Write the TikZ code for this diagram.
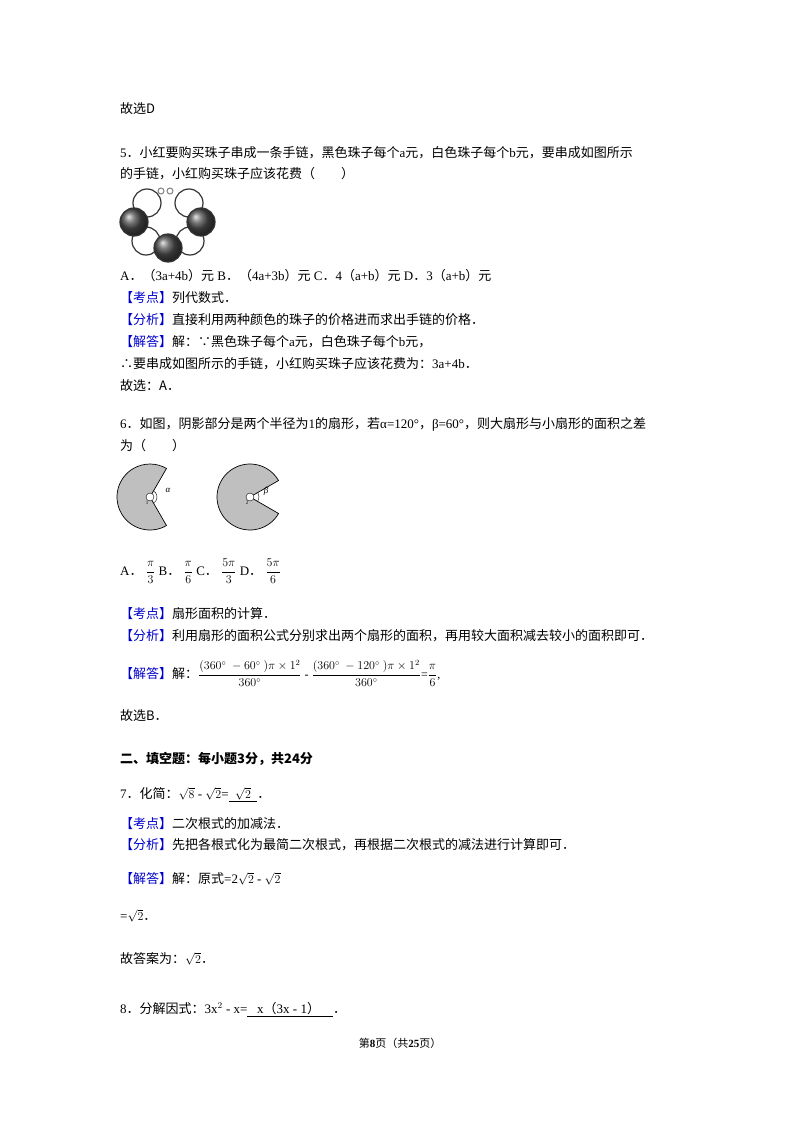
\documentclass[tikz,border=0pt]{standalone}
\usepackage{amsmath}
\usepackage{fontspec}
\setmainfont{Liberation Serif}
\newfontfamily\cjk{Noto Sans CJK SC}
\newfontfamily\hv{Liberation Sans}
\def\P{{\cjk ．}}
\def\C{{\cjk ，}}
\begin{document}
\begin{tikzpicture}[x=1pt,y=-1pt,
  t/.style={anchor=base west,inner sep=0pt,font=\fontsize{13}{15}\selectfont},
  beadb/.style={draw=black!80,line width=1.2pt,ball color=black!70},
  beadw/.style={draw=black!80,line width=1.2pt,fill=white},
  sec/.style={draw=black,fill=black!25,line width=0.7pt}]
\useasboundingbox (0,0) rectangle (800,1132);
\def\kd{{\color{blue!80!black}\cjk【考点】}}
\def\fx{{\color{blue!80!black}\cjk【分析】}}
\def\jd{{\color{blue!80!black}\cjk【解答】}}
\node[t] (l1) at (120,113) {\cjk 故选D};
\node[t] (l2) at (120,157) {5\P{\cjk 小红要购买珠子串成一条手链，黑色珠子每个}a{\cjk 元，白色珠子每个}b{\cjk 元，要串成如图所示}};
\node[t] (l3) at (120,178) {\cjk 的手链，小红购买珠子应该花费（\quad\quad）};
% bracelet
\draw[gray,line width=1pt] (161,191) circle (3) (170,191) circle (3);
\foreach \p in {(147,203),(189,203),(146,241),(190,241)} \draw[beadw] \p circle (14);
\foreach \p in {(134,222),(201,222),(168,248)} \draw[beadb] \p circle (14);
\node[t] (l4) at (120,280) {A\P{\cjk（}3a+4b{\cjk）元} B\P{\cjk（}4a+3b{\cjk）元} C\P 4{\cjk（}a+b{\cjk）元} D\P 3{\cjk（}a+b{\cjk）元}};
\node[t] (l5) at (120,302) {\kd\cjk 列代数式．};
\node[t] (l6) at (120,324) {\fx\cjk 直接利用两种颜色的珠子的价格进而求出手链的价格．};
\node[t] (l7) at (120,346) {\jd{\cjk 解：∵黑色珠子每个}a{\cjk 元，白色珠子每个}b{\cjk 元，}};
\node[t] (l8) at (120,368) {{\cjk ∴要串成如图所示的手链，小红购买珠子应该花费为：}3a+4b\P};
\node[t] (l9) at (120,390) {\cjk 故选：A．};
\node[t] (l10) at (120,428) {6\P{\cjk 如图，阴影部分是两个半径为}1{\cjk 的扇形，若}α=120°\C β=60°{\cjk ，则大扇形与小扇形的面积之差}};
\node[t] (l11) at (120,450) {\cjk 为（\quad\quad）};
% sectors
\coordinate (o1) at (150,497);
\draw[sec] (o1) -- ++(60:33) arc (60:300:33) -- cycle;
\draw[fill=white] (o1) circle (4);
\draw (o1) ++(-60:7) arc (-60:60:7);
\node[font=\itshape\small] (al) at (168,490) {α};
\coordinate (o2) at (250,497);
\draw[sec] (o2) -- ++(30:33) arc (30:330:33) -- cycle;
\draw[fill=white] (o2) circle (4);
\draw (o2) ++(-30:9) arc (-30:30:9);
\node[font=\itshape\small] (be) at (266,491) {β};
\node[font=\tiny] (s1) at (147,503) {1};
\node[font=\tiny] (s2) at (247,503) {2};
% fractions
\node[t] (l12) at (120,575) {A\P\ $\dfrac{\pi}{3}$ B\P\ $\dfrac{\pi}{6}$ C\P\ $\dfrac{5\pi}{3}$ D\P\ $\dfrac{5\pi}{6}$};
\node[t] (l13) at (120,618) {\kd\cjk 扇形面积的计算．};
\node[t] (l14) at (120,640) {\fx\cjk 利用扇形的面积公式分别求出两个扇形的面积，再用较大面积减去较小的面积即可．};
\node[t] (l15) at (120,678) {\jd{\cjk 解：}{\large$\dfrac{(360^\circ\ -60^\circ\ )\pi\times1^2}{360^\circ}$ - $\dfrac{(360^\circ\ -120^\circ\ )\pi\times1^2}{360^\circ}$=$\dfrac{\pi}{6}$,}};
\node[t] (l16) at (120,720) {\cjk 故选B．};
\node[t] (l17) at (120,763) {\cjk\bfseries 二、填空题：每小题3分，共24分};
\node[t] (l18) at (120,798) {7\P{\cjk 化简：}$\sqrt{8}$ - $\sqrt{2}$=\underline{\ \ $\sqrt{2}$\ \ }\P};
\node[t] (l19) at (120,828) {\kd\cjk 二次根式的加减法．};
\node[t] (l20) at (120,849) {\fx\cjk 先把各根式化为最简二次根式，再根据二次根式的减法进行计算即可．};
\node[t] (l21) at (120,883) {\jd{\cjk 解：原式}=2$\sqrt{2}$ - $\sqrt{2}$};
\node[t] (l22) at (120,920) {=$\sqrt{2}$\P};
\node[t] (l23) at (120,963) {{\cjk 故答案为：}$\sqrt{2}$\P};
\node[t] (l24) at (120,1013) {8\P{\cjk 分解因式：}3x$^2$ - x=\underline{\ \ \ x{\cjk（}3x - 1{\cjk）}\ \ \ \ }\P};
\node[anchor=base,inner sep=0pt,font=\fontsize{11}{13}\selectfont] (ft) at (400,1047) {{\cjk 第}\textbf{8}{\cjk 页（共}\textbf{25}{\cjk 页）}};
\end{tikzpicture}
\end{document}
